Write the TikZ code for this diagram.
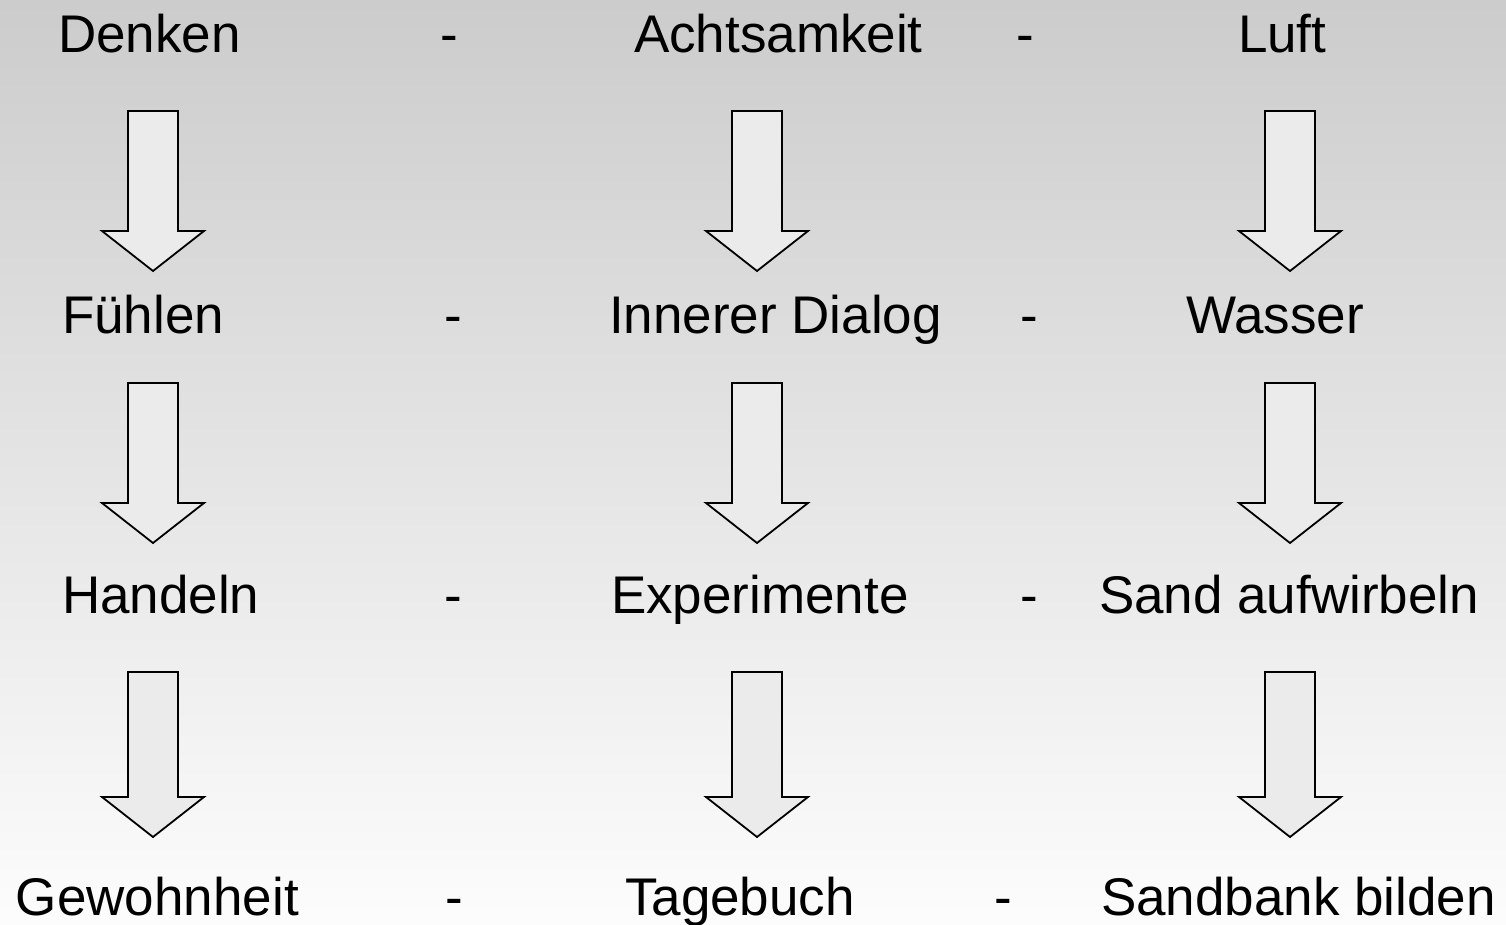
\documentclass[tikz,border=0pt]{standalone}
\usepackage{fontspec}
\setmainfont{Liberation Sans}
\begin{document}
\begin{tikzpicture}[x=1pt,y=-1pt,
  word/.style={anchor=base west,inner sep=0pt,outer sep=0pt,font=\fontsize{53}{58}\selectfont},
  sepmark/.style={anchor=base,inner sep=0pt,font=\fontsize{53}{58}\selectfont},
  downarrow/.pic={
    \draw[line width=1.8pt,fill=black!8,line join=miter]
      (-25,0) -- (25,0) -- (25,#1) -- (51,#1) -- (0,#1+40) -- (-51,#1) -- (-25,#1) -- cycle;
  }]
  % background fading from grey at the top to near white at the bottom
  \shade[top color=black!20,bottom color=black!1] (0,0) rectangle (1506,925);
  \useasboundingbox (0,0) rectangle (1506,925);

  % first row
  \node[word] (denken) at (58,53) {Denken};
  \node[sepmark] (s11) at (449,53) {-};
  \node[word] (achtsam) at (634,53) {Achtsamkeit};
  \node[sepmark] (s12) at (1025,53) {-};
  \node[word] (luft) at (1238,53) {Luft};

  % second row
  \node[word] (fuehlen) at (62,333) {Fühlen};
  \node[sepmark] (s21) at (453,333) {-};
  \node[word] (dialog) at (609,333) {Innerer Dialog};
  \node[sepmark] (s22) at (1029,333) {-};
  \node[word] (wasser) at (1186,333) {Wasser};

  % third row
  \node[word] (handeln) at (62,613) {Handeln};
  \node[sepmark] (s31) at (453,613) {-};
  \node[word] (experimente) at (611,613) {Experimente};
  \node[sepmark] (s32) at (1029,613) {-};
  \node[word] (sand) at (1099,613) {Sand aufwirbeln};

  % fourth row
  \node[word] (gewohnheit) at (16,915) {Gewohnheit};
  \node[sepmark] (s41) at (454,915) {-};
  \node[word] (tagebuch) at (625,915) {Tagebuch};
  \node[sepmark] (s42) at (1003,915) {-};
  \node[word] (sandbank) at (1101,915) {Sandbank bilden};

  % block arrows between the rows
  \foreach \x in {153,757,1290} {
    \pic at (\x,111) {downarrow=120};
    \pic at (\x,383) {downarrow=120};
    \pic at (\x,672) {downarrow=125};
  }
\end{tikzpicture}
\end{document}
